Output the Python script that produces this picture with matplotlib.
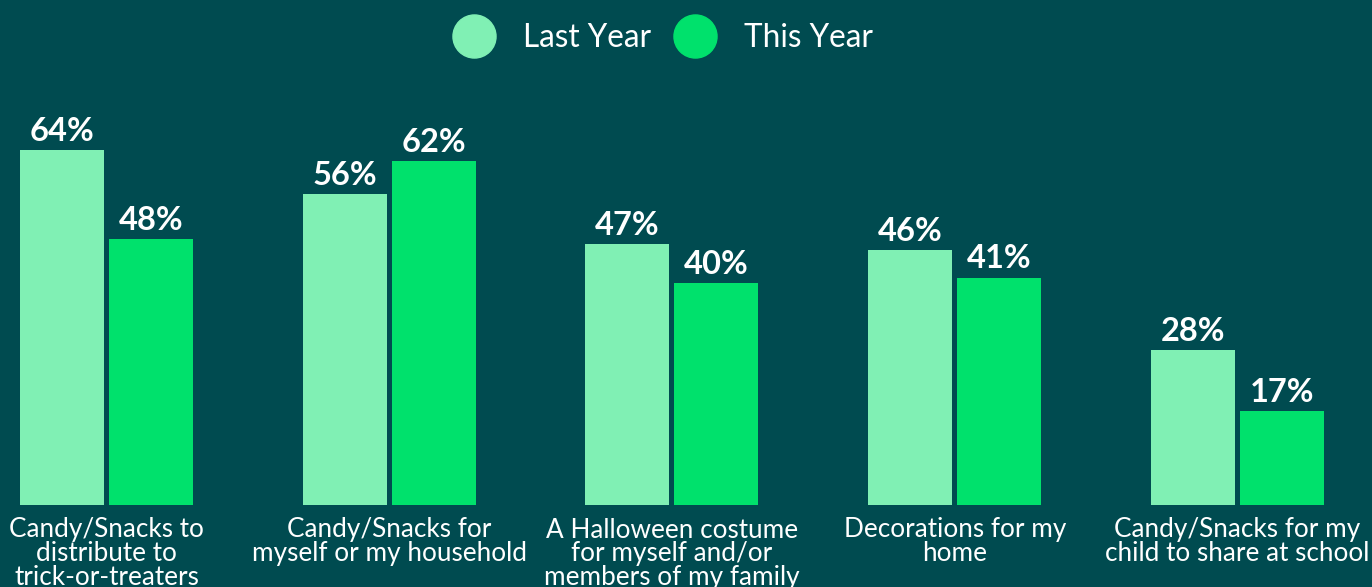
import matplotlib.pyplot as plt
from matplotlib.lines import Line2D
import numpy as np

categories = [
    "Candy/Snacks to\ndistribute to\ntrick-or-treaters",
    "Candy/Snacks for\nmyself or my household",
    "A Halloween costume\nfor myself and/or\nmembers of my family",
    "Decorations for my\nhome",
    "Candy/Snacks for my\nchild to share at school",
]
last_year = [64, 56, 47, 46, 28]
this_year = [48, 62, 40, 41, 17]
series_names = ["Last Year", "This Year"]

bg = "#004B50"
light = "#80F0B4"
bright = "#00E16C"

plt.rcParams['font.family'] = ['Lato', 'DejaVu Sans']

fig = plt.figure(figsize=(13.72, 5.87), dpi=100, facecolor=bg)
# axes spans the full width, baseline at y=505px
ax = fig.add_axes([0, 82 / 587, 1, 505 / 587])
ax.set_facecolor(bg)

step = 282.75  # px between group centers
width = 84 / step
offset = (84 + 5) / 2 / step
x = np.arange(len(categories))

b1 = ax.bar(x - offset, last_year, width, color=light)
b2 = ax.bar(x + offset, this_year, width, color=bright)

for bars, vals in [(b1, last_year), (b2, this_year)]:
    for bar, v in zip(bars, vals):
        ax.annotate(f"{v}%", (bar.get_x() + bar.get_width() / 2, v),
                    xytext=(0, 3), textcoords="offset points",
                    ha="center", va="bottom", color="white",
                    fontsize=23.5, fontweight="bold")

ax.set_xlim(-106.5 / step, (1372 - 106.5) / step)
ax.set_ylim(0, 505 / 5.547)
ax.set_xticks(x)
ax.set_xticklabels(categories, color="white", fontsize=18.8, linespacing=0.93)
ax.tick_params(axis="x", length=0, pad=9)
ax.set_yticks([])
for s in ax.spines.values():
    s.set_visible(False)

handles = [Line2D([], [], marker="o", linestyle="none", markersize=31,
                  markerfacecolor=c, markeredgecolor=c) for c in (light, bright)]
leg = fig.legend(handles, series_names, loc="center",
                 bbox_to_anchor=(662 / 1372, 1 - 38 / 587), ncol=2, frameon=False,
                 fontsize=22.7, handlelength=1.4, handletextpad=0.85,
                 columnspacing=0.7)
for t in leg.get_texts():
    t.set_color("white")

fig.savefig("out.png", dpi=100, facecolor=bg)
